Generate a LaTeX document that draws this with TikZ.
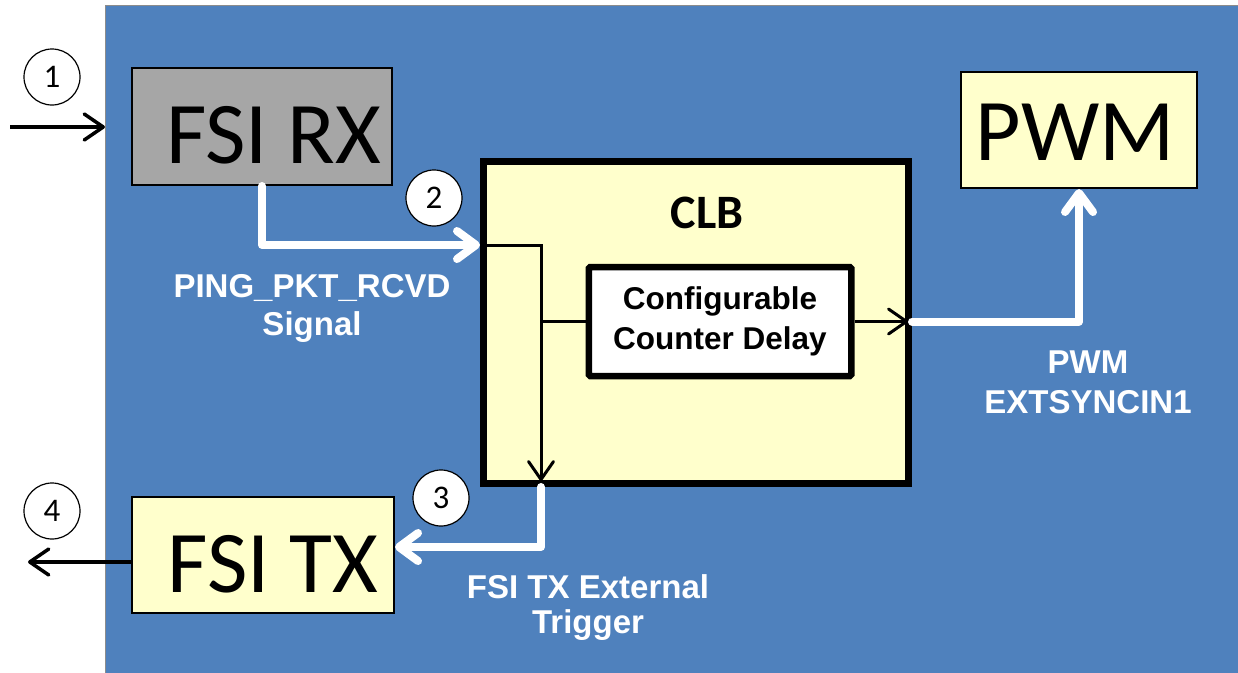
\documentclass[tikz,border=0pt]{standalone}
\usepackage{fontspec}
\setmainfont{Carlito}
\newfontfamily\labfont{Liberation Sans}
\usetikzlibrary{arrows.meta}

\definecolor{bgblue}{HTML}{4F81BD}
\definecolor{boxyellow}{HTML}{FFFFCC}
\definecolor{rxgray}{HTML}{A6A6A6}

\tikzset{
  panel/.style={draw=black!45, line width=1pt, fill=bgblue, anchor=north west, inner sep=0pt},
  blockbox/.style={draw=black, line width=2pt, fill=boxyellow, inner sep=0pt},
  bigtext/.style={font=\fontsize{88}{90}\selectfont, inner sep=0pt, anchor=base},
  clbbox/.style={draw=black, line width=7pt, fill=boxyellow, inner sep=0pt},
  delaybox/.style={draw=black, line width=6.5pt, fill=white, rounded corners=1.5pt, inner sep=0pt,
    align=center, font=\labfont\bfseries\fontsize{31.5}{40}\selectfont},
  stepmark/.style={circle, draw=black, line width=1.2pt, fill=white, minimum size=56pt, inner sep=0pt,
    font=\fontsize{33}{33}\selectfont},
  wlabel/.style={text=white, align=center, inner sep=0pt, font=\labfont\bfseries\fontsize{33}{38}\selectfont},
  barrow/.style={draw=black, line width=3.5pt, -{Straight Barb[length=19pt,width=26pt,round]}},
  tline/.style={draw=black, line width=3pt},
  tarrow/.style={tline, -{Straight Barb[length=18pt,width=25pt,round]}},
  warrow/.style={draw=white, line width=8pt, line cap=round, line join=round,
    -{Straight Barb[length=19pt,width=28pt,round]}},
}

\begin{document}
\begin{tikzpicture}[x=1pt,y=-1pt]
\useasboundingbox (0,0) rectangle (1238,672);
\fill[white] (0,0) rectangle (1238,672);

% blue device area
\node[panel, minimum width=1140pt, minimum height=672pt] (panel) at (105,5) {};

% function blocks
\node[blockbox, fill=rxgray, minimum width=260pt, minimum height=117pt] (rx) at (262,126.5) {};
\node[bigtext] (rxt) at (274,163) {FSI RX};
\node[blockbox, minimum width=236pt, minimum height=116pt] (pwm) at (1079,130) {};
\node[bigtext] (pwmt) at (1075,160) {PWM};
\node[blockbox, minimum width=262pt, minimum height=116pt] (tx) at (263,555) {};
\node[bigtext] (txt) at (273,592) {FSI TX};

\node[clbbox, minimum width=425pt, minimum height=322pt] (clb) at (696,322.5) {};
\node[font=\bfseries\fontsize{48}{48}\selectfont, inner sep=0pt, anchor=base] (clbt) at (707,228) {CLB};
\node[delaybox, minimum width=262.5pt, minimum height=109pt] (delay) at (720,321.5)
  {Configurable\\Counter Delay};

% step markers
\node[stepmark] (s1) at (52,77) {1};
\node[stepmark] (s2) at (434,198) {2};
\node[stepmark] (s3) at (441,498) {3};
\node[stepmark] (s4) at (52,511) {4};

% routing points
\coordinate (inA) at (10,127);
\coordinate (outB) at (28,562);
\coordinate (split) at (541,245);
\coordinate (bend) at (541,547);

% external input / output
\draw[barrow] (inA) -- (inA -| panel.west);
\draw[barrow] (outB -| tx.west) -- (outB);

% PING_PKT_RCVD into the CLB
\draw[warrow] (rx.south) |- (split -| clb.west);

% internal CLB routing
\draw[tarrow, shorten >=6pt] (split -| clb.west) -- (split) -- (split |- clb.south);
\draw[tline] (split |- delay.west) -- (delay.west);
\draw[tarrow, shorten >=4pt] (delay.east) -- (delay.east -| clb.east);

% CLB outputs
\draw[warrow] (delay.east -| clb.east) -| (pwm.south);
\draw[warrow] (split |- clb.south) -- (bend) -- (bend -| tx.east);

% signal names
\node[wlabel] (lping) at (312,308) {PING\_PKT\_RCVD\\Signal};
\node[wlabel, font=\labfont\bfseries\fontsize{33}{40}\selectfont] (lsync) at (1088,382) {PWM\\EXTSYNCIN1};
\node[wlabel, font=\labfont\bfseries\fontsize{33}{35}\selectfont] (ltrig) at (588,608) {FSI TX External\\Trigger};
\end{tikzpicture}
\end{document}
